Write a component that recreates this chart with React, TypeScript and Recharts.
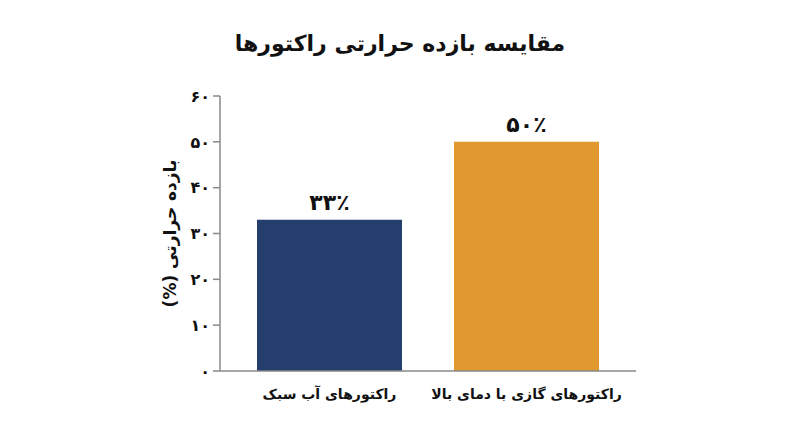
import React from 'react';
import { BarChart, Bar, XAxis, YAxis, LabelList, Cell } from 'recharts';

const categories = ['راکتورهای آب سبک', 'راکتورهای گازی با دمای بالا'];
const efficiency = [33, 50];
const barColors = ['#243f6d', '#e0982f'];
const yTicks = [0, 10, 20, 30, 40, 50, 60];

const FA_DIGITS = '۰۱۲۳۴۵۶۷۸۹';
const toFa = (n: number | string) => String(n).replace(/\d/g, d => FA_DIGITS[Number(d)]);

const data = categories.map((name, i) => ({ name, value: efficiency[i] }));

const FONT = '"DejaVu Sans", sans-serif';

const App: React.FC = () => (
    <div style={{ position: 'fixed', left: 0, top: 0, width: 800, height: 447, background: '#fff', fontFamily: FONT }}>
        <div style={{ position: 'absolute', top: 31, left: 0, width: 800, textAlign: 'center', fontSize: 22, fontWeight: 'bold', color: '#111', direction: 'rtl' }}>
            مقایسه بازده حرارتی راکتورها
        </div>
        <BarChart width={800} height={447} data={data} margin={{ top: 96, right: 164, bottom: 26, left: 120 }}>
            <XAxis
                dataKey="name"
                height={50}
                padding={{ left: 11, right: 11 }}
                tickLine={false}
                axisLine={{ stroke: '#888', strokeWidth: 1.5 }}
                tick={{ fill: '#111', fontSize: 14, fontWeight: 'bold', fontFamily: FONT }}
                tickMargin={12}
            />
            <YAxis
                width={100}
                domain={[0, 60]}
                ticks={yTicks}
                tickFormatter={(v: number) => toFa(v)}
                axisLine={{ stroke: '#888', strokeWidth: 1.5 }}
                tickLine={{ stroke: '#888', strokeWidth: 1.5 }}
                tickSize={7}
                tickMargin={3}
                tick={{ fill: '#111', fontSize: 16, fontWeight: 'bold', fontFamily: FONT }}
                label={{ value: 'بازده حرارتی (%)', angle: -90, position: 'insideLeft', offset: 50, style: { textAnchor: 'middle', direction: 'rtl', fill: '#111', fontSize: 17, fontWeight: 'bold', fontFamily: FONT } }}
            />
            <Bar dataKey="value" barSize={145} isAnimationActive={false}>
                {data.map((d, i) => <Cell key={d.name} fill={barColors[i]} />)}
                <LabelList dataKey="value" position="top" offset={10} formatter={(v: number) => `${toFa(v)}٪`} style={{ fill: '#111', fontSize: 22, fontWeight: 'bold', fontFamily: FONT }} />
            </Bar>
        </BarChart>
    </div>
);

export default App;
